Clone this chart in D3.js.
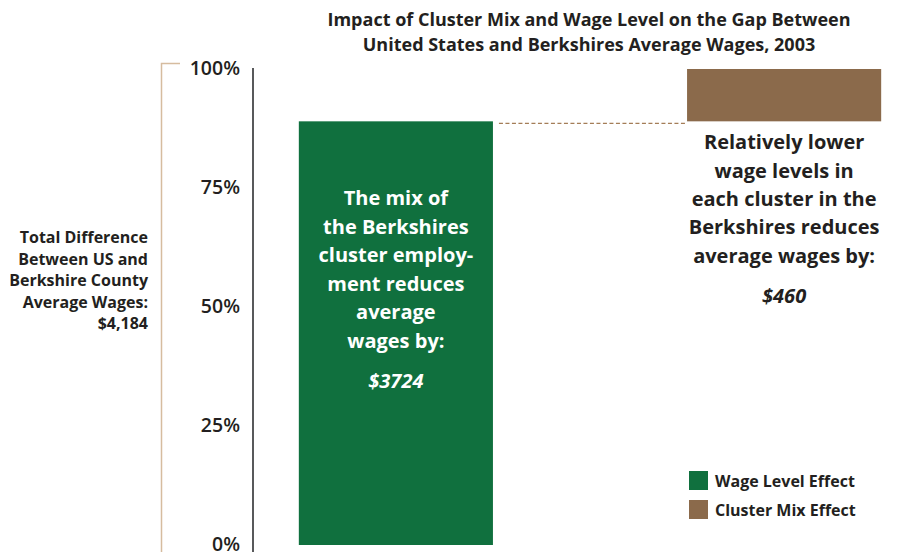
<!DOCTYPE html>
<html>
<head>
<meta charset="utf-8">
<script src="https://cdn.jsdelivr.net/npm/d3@7"></script>
<style>
  html, body { margin: 0; padding: 0; background: #fff; }
  svg { display: block; font-family: "Open Sans", Lato, sans-serif; }
</style>
</head>
<body>
<svg id="chart" width="910" height="552"></svg>
<script>
// Components of the US – Berkshires average wage gap (dollars), stacked as a waterfall
const categories = ["Wage Level Effect", "Cluster Mix Effect"];
const values = [3724, 460];
const colors = ["#10703e", "#8b6a4b"];
const tickShares = [0, 0.25, 0.5, 0.75, 1];
const tickLabels = ["0%", "25%", "50%", "75%", "100%"];

const barNotes = [
  ["The mix of", "the Berkshires", "cluster employ-", "ment reduces", "average", "wages by:"],
  ["Relatively lower", "wage levels in", "each cluster in the", "Berkshires reduces", "average wages by:"]
];
const titleLines = [
  "Impact of Cluster Mix and Wage Level on the Gap Between",
  "United States and Berkshires Average Wages, 2003"
];
const sideLines = ["Total Difference", "Between US and", "Berkshire County", "Average Wages:"];

const total = d3.sum(values);
const fmtMoney = v => "$" + v;
const fmtTotal = d3.format("$,");

const svg = d3.select("#chart");
const ink = "#231f20";

// waterfall segments
let running = 0;
const segs = values.map((v, i) => {
  const s = { key: categories[i], value: v, y0: running, y1: running + v, color: colors[i], note: barNotes[i] };
  running += v;
  return s;
});

const x = d3.scaleBand().domain(categories).range([260, 920]).paddingInner(0.5).paddingOuter(0.1);
const y = d3.scaleLinear().domain([0, total]).range([545, 69]);

// title
svg.append("g").selectAll("text").data(titleLines).join("text")
  .attr("x", 589).attr("y", (d, i) => 26 + i * 25)
  .attr("text-anchor", "middle")
  .attr("font-size", 18).attr("font-weight", 700).attr("fill", ink)
  .text(d => d);

// bracket marking the total span
svg.append("path")
  .attr("d", `M180,63.5H161.5V552`)
  .attr("fill", "none").attr("stroke", "#d6bc9f").attr("stroke-width", 1.5);

// left-hand total caption
const side = svg.append("text").attr("text-anchor", "end")
  .attr("font-size", 16).attr("font-weight", 700).attr("fill", ink);
sideLines.concat([fmtTotal(total)]).forEach((t, i) => {
  side.append("tspan").attr("x", 148).attr("y", 243 + i * 21.6).text(t);
});

// y axis
const yAxis = d3.axisLeft(y)
  .tickValues(tickShares.map(s => s * total))
  .tickFormat((d, i) => tickLabels[i])
  .tickSize(0).tickPadding(13);
const gy = svg.append("g").attr("transform", "translate(253,0)").call(yAxis);
gy.select(".domain").remove();
gy.selectAll("text").attr("font-size", 19.5).attr("font-weight", 600).attr("dy", "0.3em")
  .attr("fill", ink).attr("font-family", "'Open Sans', sans-serif");
svg.append("line")
  .attr("x1", 253).attr("x2", 253).attr("y1", 68).attr("y2", 552)
  .attr("stroke", "#58595b").attr("stroke-width", 2);

// bars
svg.append("g").selectAll("rect").data(segs).join("rect")
  .attr("x", d => x(d.key)).attr("width", x.bandwidth())
  .attr("y", d => y(d.y1)).attr("height", d => y(d.y0) - y(d.y1))
  .attr("fill", d => d.color);

// connector between the two segments
svg.append("line")
  .attr("x1", x(segs[0].key) + x.bandwidth() + 6).attr("x2", x(segs[1].key))
  .attr("y1", y(segs[0].y1) + 2).attr("y2", y(segs[0].y1) + 2)
  .attr("stroke", "#a47d57").attr("stroke-width", 1.2).attr("stroke-dasharray", "4,2.5");

// note inside the first bar
const s0 = segs[0];
const n0 = svg.append("text").attr("text-anchor", "middle")
  .attr("font-size", 20).attr("font-weight", 700).attr("fill", "#fff");
s0.note.forEach((t, i) => {
  n0.append("tspan").attr("x", x(s0.key) + x.bandwidth() / 2)
    .attr("y", y(s0.y1) + 84 + i * 28.5).text(t);
});
svg.append("text").attr("text-anchor", "middle")
  .attr("x", x(s0.key) + x.bandwidth() / 2).attr("y", y(s0.y1) + 267)
  .attr("font-size", 20).attr("font-weight", 700).attr("font-style", "italic").attr("fill", "#fff")
  .text(fmtMoney(s0.value));

// note beneath the second bar
const s1 = segs[1];
const n1 = svg.append("text").attr("text-anchor", "middle")
  .attr("font-size", 20).attr("font-weight", 700).attr("fill", ink);
s1.note.forEach((t, i) => {
  n1.append("tspan").attr("x", x(s1.key) + x.bandwidth() / 2)
    .attr("y", y(s1.y0) + 28 + i * 28.3).text(t);
});
svg.append("text").attr("text-anchor", "middle")
  .attr("x", x(s1.key) + x.bandwidth() / 2).attr("y", y(s1.y0) + 182)
  .attr("font-size", 20).attr("font-weight", 700).attr("font-style", "italic").attr("fill", ink)
  .text(fmtMoney(s1.value));

// legend
const legend = svg.append("g").selectAll("g").data(segs).join("g")
  .attr("transform", (d, i) => `translate(689,${471 + i * 29})`);
legend.append("rect").attr("width", 19).attr("height", 19).attr("fill", d => d.color);
legend.append("text").attr("x", 26).attr("y", 15.5)
  .attr("font-size", 16).attr("font-weight", 700).attr("fill", ink)
  .text(d => d.key);
</script>
</body>
</html>
